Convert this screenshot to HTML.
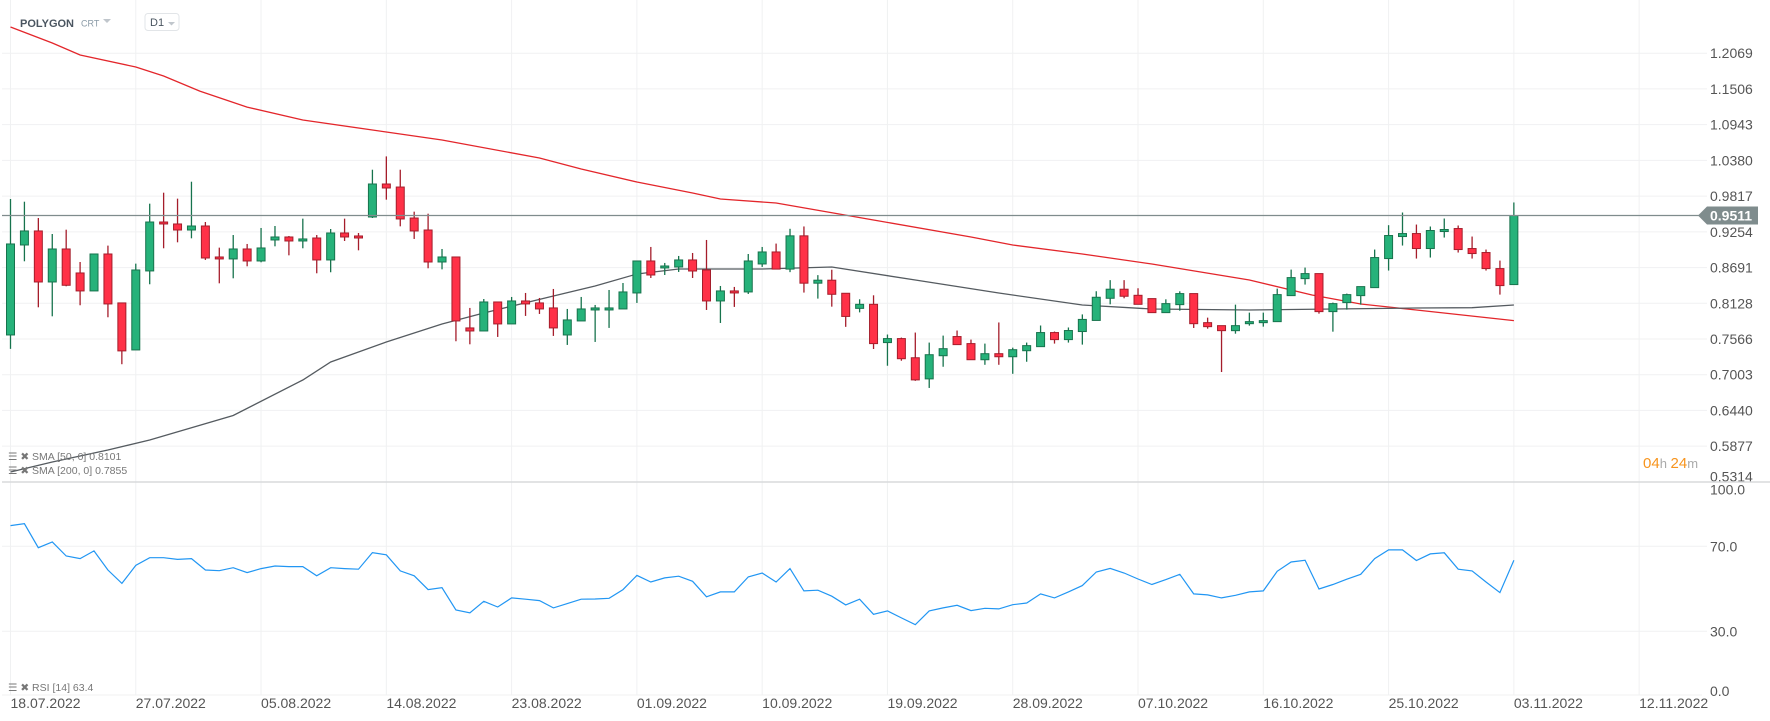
<!DOCTYPE html>
<html><head><meta charset="utf-8"><style>
body{margin:0;background:#fff;width:1770px;height:721px;overflow:hidden;font-family:"Liberation Sans",sans-serif;}
svg{position:absolute;left:0;top:0}
</style></head><body>
<svg id="chart" width="1770" height="721" xmlns="http://www.w3.org/2000/svg" font-family="Liberation Sans, sans-serif">
<g id="grid"></g>
<g id="sma200"></g>
<g id="sma50"></g>
<g id="candles"></g>
<g id="rsi"></g>
<g id="axes"></g>
<g>
<text x="20" y="27" font-size="11" font-weight="bold" fill="#4a5560">POLYGON</text>
<text x="81" y="26.5" font-size="9" fill="#8a9aa6">CRT</text>
<path d="M103,19 L111,19 L107,23 Z" fill="#c0c6cc"/>
<rect x="145" y="13.5" width="34" height="17" rx="3" fill="#fff" stroke="#e2e5e8"/>
<text x="150" y="26" font-size="11" fill="#4a5560">D1</text>
<path d="M168,22 L175,22 L171.5,25.5 Z" fill="#c0c6cc"/>
</g>
<g font-size="10.5" fill="#777">
<text x="8" y="460">☰ ✖ SMA  [50,  0]  0.8101</text>
<text x="8" y="474">☰ ✖ SMA  [200,  0]  0.7855</text>
<text x="8" y="691">☰ ✖ RSI  [14]  63.4</text>
</g>
<g font-size="15">
<text x="1643" y="468"><tspan fill="#f7941d">04</tspan><tspan fill="#aaa" font-size="13">h </tspan><tspan fill="#f7941d">24</tspan><tspan fill="#aaa" font-size="13">m</tspan></text>
</g>
</svg>
<script>
const opens=[.7629,.9047,.9268,.8464,.8984,.8606,.8323,.8905,.8134,.7393,.8638,.9409,.9378,.9283,.9346,.8858,.8827,.8984,.8795,.9126,.9173,.9110,.9157,.8811,.9236,.9189,.9488,1.0008,.9960,.9472,.9283,.8779,.8858,.7740,.7692,.8149,.7803,.8165,.8134,.8055,.7629,.7850,.8023,.8023,.8039,.8291,.8795,.8685,.8700,.8811,.8653,.8165,.8323,.8307,.8748,.8937,.8667,.9191,.8445,.8492,.8286,.8048,.8112,.7509,.7572,.7270,.6937,.7302,.7604,.7493,.7239,.7334,.7286,.7381,.7445,.7667,.7556,.7683,.7858,.8207,.8350,.8254,.8202,.7981,.8107,.8281,.7823,.7776,.7697,.7807,.7823,.7839,.8249,.8517,.8596,.7997,.8139,.8249,.8375,.8833,.9180,.9227,.8991,.9259,.9306,.8991,.8928,.8675,.8423];
const highs=[.9771,.9729,.9472,.9220,.9288,.8779,.8905,.9037,.8134,.8753,.9698,.9871,.9777,1.0044,.9409,.9005,.9204,.9063,.9315,.9346,.9189,.9462,.9204,.9299,.9462,.9236,1.0233,1.0443,1.0233,.9572,.9540,.8984,.8858,.8055,.8196,.8149,.8228,.8291,.8212,.8354,.8039,.8228,.8102,.8338,.8448,.8795,.9016,.8764,.8874,.8921,.9126,.8401,.8386,.8905,.9016,.9069,.9302,.9339,.8572,.8657,.8286,.8191,.8254,.7636,.7588,.7667,.7509,.7619,.7699,.7556,.7493,.7826,.7429,.7509,.7778,.7683,.7747,.7953,.8318,.8493,.8493,.8365,.8202,.8191,.8317,.8281,.7902,.7776,.8107,.7981,.7981,.8359,.8659,.8691,.8596,.8139,.8281,.8391,.8975,.9359,.9559,.9369,.9338,.9464,.9354,.9180,.8975,.8801,.9717];
const lows=[.7409,.8790,.8065,.7923,.8396,.8097,.8323,.7908,.7168,.7393,.8428,.8995,.9089,.9152,.8811,.8443,.8522,.8711,.8774,.9026,.8884,.8995,.8601,.8617,.9110,.8963,.9472,.9761,.9341,.9142,.8680,.8663,.7530,.7482,.7692,.7598,.7803,.7929,.7960,.7614,.7472,.7850,.7519,.7740,.8039,.8134,.8527,.8574,.8622,.8527,.8023,.7818,.8071,.8275,.8701,.8667,.8619,.8297,.8202,.8075,.7757,.7985,.7408,.7144,.7223,.6906,.6794,.7128,.7477,.7239,.7159,.7159,.7017,.7207,.7445,.7493,.7509,.7477,.7858,.8112,.8207,.8112,.7981,.7981,.8012,.7739,.7728,.7045,.7649,.7776,.7760,.7839,.8249,.8423,.7965,.7681,.8028,.8107,.8375,.8644,.9038,.8833,.8849,.9164,.8928,.8833,.8644,.8265,.8423];
const closes=[.9063,.9268,.8464,.8984,.8412,.8323,.8905,.8118,.7378,.8653,.9409,.9378,.9283,.9346,.8842,.8827,.8984,.8795,.9000,.9173,.9110,.9142,.8811,.9236,.9173,.9157,1.0008,.9945,.9457,.9268,.8779,.8858,.7850,.7692,.8149,.7803,.8165,.8118,.8039,.7740,.7866,.8039,.8055,.8055,.8307,.8795,.8574,.8716,.8811,.8637,.8165,.8323,.8291,.8795,.8937,.8667,.9191,.8445,.8492,.8270,.7921,.8112,.7493,.7572,.7255,.6921,.7318,.7413,.7477,.7239,.7334,.7286,.7397,.7461,.7667,.7556,.7699,.7874,.8223,.8350,.8239,.8112,.7981,.8123,.8281,.7807,.7760,.7697,.7776,.7839,.7855,.8265,.8533,.8596,.7997,.8123,.8265,.8391,.8849,.9196,.9227,.8991,.9275,.9291,.8975,.8912,.8675,.8407,.9511];
const sma200Idx=[0,3,5,9,11,13.6,17,21,27,31,38,41,45,49,51,55,62,69,72,77,82,89,93.5,97,101,108];
const sma200Val=[1.2482,1.2230,1.2041,1.1852,1.1710,1.1472,1.1220,1.1016,1.0827,1.0701,1.0418,1.0244,1.0040,.9866,.9772,.9709,.9440,.9173,.9047,.8905,.8747,.8495,.8259,.8117,.8022,.7855];
const sma50Idx=[0,3,7,10,16,21,23,27,31,34,39,42,45,48,51,54,59,65,71,77,82,89,101,105,108];
const sma50Val=[.5470,.5627,.5816,.5974,.6360,.6919,.7203,.7518,.7802,.7975,.8243,.8401,.8590,.8668,.8668,.8668,.8700,.8495,.8290,.8101,.8038,.8022,.8054,.8059,.8101];
const rsiVals=[79.7,80.6,69.3,72.0,65.4,64.2,67.8,58.8,52.5,61.0,64.6,64.6,63.8,64.2,58.8,58.5,59.9,57.6,59.5,60.7,60.4,60.4,56.1,59.9,59.5,59.2,67.0,66.0,58.4,56.1,49.6,50.5,40.0,38.7,44.1,41.4,45.7,45.1,44.4,41.0,43.0,45.1,45.2,45.5,49.6,56.3,53.2,55.1,55.9,53.5,46.2,48.5,48.5,55.6,57.4,53.2,59.5,49.0,49.3,46.5,42.4,45.1,38.0,39.6,36.3,33.1,39.6,41.0,42.2,39.7,40.8,40.5,42.5,43.3,47.6,45.7,48.5,51.5,57.9,59.6,57.4,54.6,52.0,54.3,56.8,47.6,47.1,45.7,46.9,48.5,49.0,58.2,62.6,63.4,49.9,52.0,54.5,56.8,64.2,68.3,68.3,63.3,66.4,66.9,59.2,58.4,53.2,48.2,63.4];
const priceTicks=[1.2069,1.1506,1.0943,1.0380,0.9817,0.9254,0.8691,0.8128,0.7566,0.7003,0.6440,0.5877,0.5314];
const rsiTicks=[100,70,30,0];
const dateLabels=["18.07.2022","27.07.2022","05.08.2022","14.08.2022","23.08.2022","01.09.2022","10.09.2022","19.09.2022","28.09.2022","07.10.2022","16.10.2022","25.10.2022","03.11.2022","12.11.2022"];
const lastPrice=0.9511;

const NS="http://www.w3.org/2000/svg";
const X=i=>10.5+i*13.92;
const Y=p=>303.3-(p-0.8128)*634.6;
const RY=v=>695-v*2.125;
function mk(tag,attrs,parent){const e=document.createElementNS(NS,tag);for(const k in attrs)e.setAttribute(k,attrs[k]);parent.appendChild(e);return e;}
const grid=document.getElementById('grid'),axes=document.getElementById('axes');
priceTicks.forEach((t,k)=>{
  const last=k===priceTicks.length-1;
  if(!last){const l=mk('line',{x1:2,x2:1707,y1:Y(t),y2:Y(t),stroke:'#f0f1f2','stroke-width':1},grid);
  
  }
  const tx=mk('text',{x:1710,y:last?Y(t)-0.5:Y(t)+5,'font-size':14,fill:'#555'},axes);tx.textContent=t.toFixed(4);
  
  
});
rsiTicks.forEach(t=>{
  if(t>0&&t<100){const l=mk('line',{x1:2,x2:1707,y1:RY(t),y2:RY(t),stroke:'#f0f1f2'},grid);
  
  }
  let yy=RY(t)+5;
  if(t===100)yy=RY(t)+12;
  if(t===0)yy=RY(t)+1;
  const tx=mk('text',{x:1710,y:yy,'font-size':14,fill:'#555'},axes);tx.textContent=t.toFixed(1);
  
  
});
dateLabels.forEach((d,k)=>{
  const x=X(k*9);
  const l=mk('line',{x1:x,x2:x,y1:0,y2:695,stroke:'#f0f1f2'},grid);
  
  
  const tx=mk('text',{x:x,y:708,'font-size':14,fill:'#555'},axes);tx.textContent=d;
  
  
});
const sep=mk('line',{x1:2,x2:1770,y1:482,y2:482,stroke:'#d8dadc','stroke-width':1.5},axes);


const bot=mk('line',{x1:2,x2:1702,y1:695,y2:695,stroke:'#f0f1f2'},axes);


const lp=mk('line',{x1:2,x2:1700,y1:Y(lastPrice),y2:Y(lastPrice),stroke:'#7f8c8d','stroke-width':1.3},axes);


const by=Y(lastPrice);
const bd=mk('path',{d:`M1698,${by} L1707,${by-9} L1758,${by-9} L1758,${by+9} L1707,${by+9} Z`,fill:'#7f8c8d'},axes);


const bt=mk('text',{x:1710,y:by+5,'font-size':14,'font-weight':'bold',fill:'#fff'},axes);bt.textContent=lastPrice.toFixed(4);


function poly(idx,vals,col,g,name){
  const pts=idx.map((i,k)=>X(i).toFixed(1)+','+Y(vals[k]).toFixed(1)).join(' ');
  const pl=mk('polyline',{points:pts,fill:'none',stroke:col,'stroke-width':1.3},g);
  
  
}
poly(sma200Idx,sma200Val,'#e3262b',document.getElementById('sma200'),'sma-200-path');
poly(sma50Idx,sma50Val,'#555b60',document.getElementById('sma50'),'sma-50-path');
const cg=document.getElementById('candles');
opens.forEach((o,i)=>{
  const c=closes[i],up=c>=o;
  const fill=up?'#26b27a':'#ff3147',str=up?'#17734d':'#a51d2b';
  const x=X(i);
  const w=mk('line',{x1:x,x2:x,y1:Y(highs[i]),y2:Y(lows[i]),stroke:str,'stroke-width':1.3},cg);
  
  
  const top=Y(Math.max(o,c)),h=Math.max(1.5,Y(Math.min(o,c))-top);
  const r=mk('rect',{x:x-4,y:top,width:8,height:h,fill:fill,stroke:str,'stroke-width':1},cg);
  
  
});
const rp=rsiVals.map((v,i)=>X(i).toFixed(1)+','+RY(v).toFixed(1)).join(' ');
const rl=mk('polyline',{points:rp,fill:'none',stroke:'#2196f3','stroke-width':1.2},document.getElementById('rsi'));


</script>
</body></html>
